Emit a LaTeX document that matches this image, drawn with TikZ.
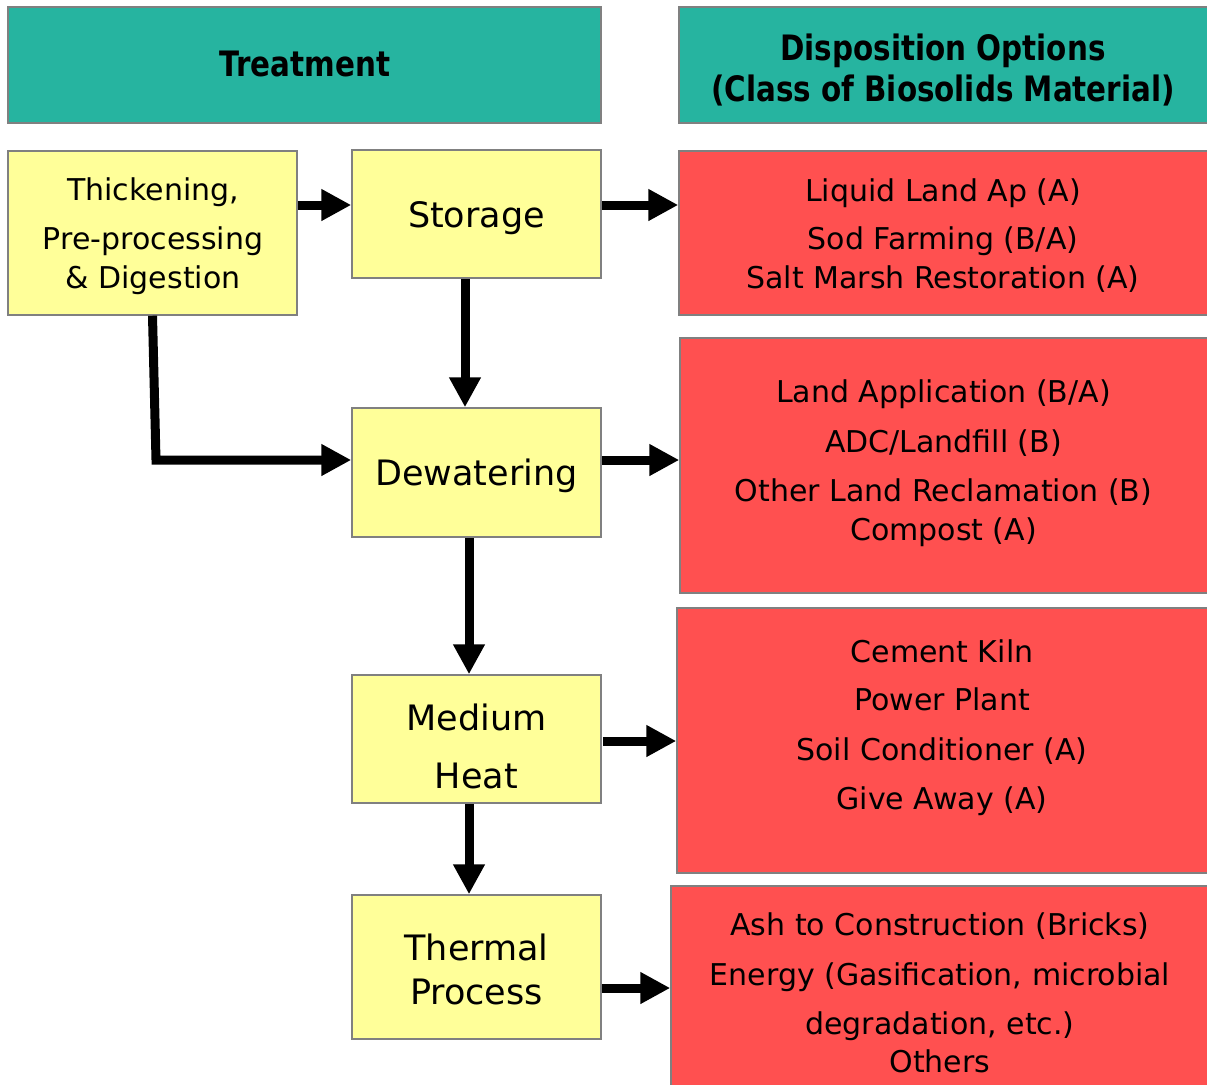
\documentclass[tikz,border=0pt]{standalone}
\usepackage{fontspec}
\setmainfont{DejaVu Sans}
\usetikzlibrary{arrows.meta}

\definecolor{hdrteal}{RGB}{38,180,160}
\definecolor{procyellow}{RGB}{255,255,153}
\definecolor{dispred}{RGB}{255,80,80}
\definecolor{boxgray}{RGB}{128,128,128}

% narrow bold lettering for the column headers
\newcommand{\hdrword}[1]{\scalebox{0.84}[1]{#1}}

\tikzset{
  box/.style={draw=boxgray, line width=1.5pt, inner sep=0pt, anchor=center},
  hdr/.style={box, fill=hdrteal},
  proc/.style={box, fill=procyellow},
  disp/.style={box, fill=dispred},
  txt/.style={anchor=base, inner sep=0pt, font=\fontsize{30}{36}\selectfont},
  bigtxt/.style={txt, font=\fontsize{35}{42}\selectfont},
  hdrtxt/.style={txt, font=\fontsize{35}{42}\selectfont\bfseries},
  flow/.style={line width=9pt, -{Triangle[length=30pt,width=30pt]}},
}

\begin{document}
\begin{tikzpicture}[x=1pt, y=-1pt]
\useasboundingbox (0,0) rectangle (1207,1084);

% column headers
\node[hdr, minimum width=593pt, minimum height=116pt] (hT) at (304.5,65) {};
\node[hdr, minimum width=540pt, minimum height=116pt] (hD) at (949,65) {};
\node[hdrtxt] (hTt) at (305,76) {\hdrword{Treatment}};
\node[hdrtxt] (hDa) at (943,60) {\hdrword{Disposition Options}};
\node[hdrtxt] (hDb) at (943,101) {\hdrword{(Class of Biosolids Material)}};

% treatment steps
\node[proc, minimum width=289pt, minimum height=164pt] (thick) at (152.5,233) {};
\node[proc, minimum width=249pt, minimum height=128pt] (stor) at (476.5,214) {};
\node[proc, minimum width=249pt, minimum height=129pt] (dew) at (476.5,472.5) {};
\node[proc, minimum width=249pt, minimum height=128pt] (med) at (476.5,739) {};
\node[proc, minimum width=249pt, minimum height=144pt] (therm) at (476.5,967) {};

\node[txt] (thA) at (153,200) {Thickening,};
\node[txt] (thB) at (153,249) {Pre-processing};
\node[txt] (thC) at (153,288) {\& Digestion};
\node[bigtxt] (stT) at (476.5,227) {Storage};
\node[bigtxt] (dwT) at (476.5,485) {Dewatering};
\node[bigtxt] (mdA) at (476.5,730) {Medium};
\node[bigtxt] (mdB) at (476.5,788) {Heat};
\node[bigtxt] (tpA) at (476.5,960) {Thermal};
\node[bigtxt] (tpB) at (476.5,1004) {Process};

% disposition options
\node[disp, minimum width=536pt, minimum height=164pt] (r1) at (947,233) {};
\node[disp, minimum width=535pt, minimum height=255pt] (r2) at (947.5,465.5) {};
\node[disp, minimum width=538pt, minimum height=265pt] (r3) at (946,740.5) {};
\node[disp, minimum width=544pt, minimum height=209pt] (r4) at (943,990.5) {};

\node[txt] (r1a) at (943,201) {Liquid Land Ap (A)};
\node[txt] (r1b) at (943,249) {Sod Farming (B/A)};
\node[txt] (r1c) at (943,288) {Salt Marsh Restoration (A)};

\node[txt] (r2a) at (943.5,402) {Land Application (B/A)};
\node[txt] (r2b) at (943.5,452) {ADC/Landfill (B)};
\node[txt] (r2c) at (943.5,501) {Other Land Reclamation (B)};
\node[txt] (r2d) at (943.5,540) {Compost (A)};

\node[txt] (r3a) at (942,662) {Cement Kiln};
\node[txt] (r3b) at (942,710) {Power Plant};
\node[txt] (r3c) at (942,760) {Soil Conditioner (A)};
\node[txt] (r3d) at (942,809) {Give Away (A)};

\node[txt] (r4a) at (940,935) {Ash to Construction (Bricks)};
\node[txt] (r4b) at (940,985) {Energy (Gasification, microbial};
\node[txt] (r4c) at (940,1034) {degradation, etc.)};
\node[txt] (r4d) at (940,1072) {Others};

% flow connectors
\draw[flow] (thick.east |- 0,205) -- (stor.west |- 0,205);
\draw[flow] (stor.east |- 0,205) -- (r1.west |- 0,205);
\draw[flow] (465,0 |- stor.south) -- (465,0 |- dew.north);
\draw[flow, line join=miter] (thick.south) -- (156,460) -- (dew.west |- 0,460);
\draw[flow] (dew.east |- 0,460) -- (r2.west |- 0,460);
\draw[flow] (469,0 |- dew.south) -- (469,0 |- med.north);
\draw[flow] (603,741) -- (r3.west |- 0,741);
\draw[flow] (469,0 |- med.south) -- (469,0 |- therm.north);
\draw[flow] (therm.east |- 0,988) -- (r4.west |- 0,988);
\end{tikzpicture}
\end{document}
